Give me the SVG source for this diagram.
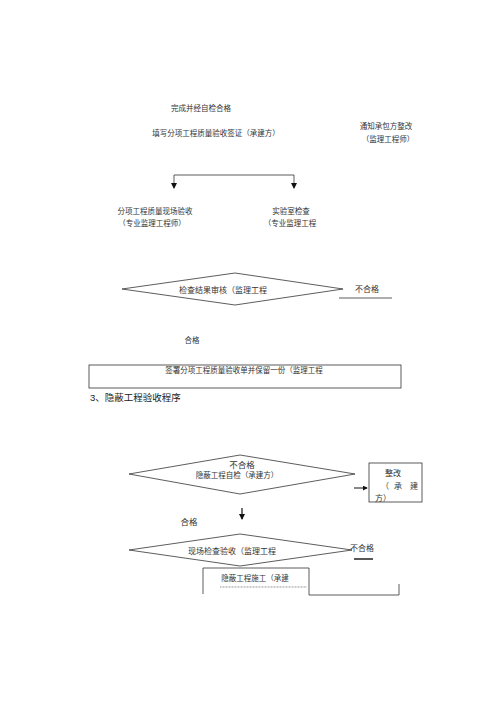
<svg xmlns="http://www.w3.org/2000/svg" width="500" height="722" viewBox="0 0 500 722">
<defs>
<style>
text{font-family:"Liberation Serif","Noto Sans CJK SC",serif;fill:#333;font-size:7.5px}
.m{text-anchor:middle}
.ln{stroke:#333;stroke-width:0.8;fill:none}
.sh{fill:#fff;stroke:#333;stroke-width:0.8}
</style>
<marker id="ah" viewBox="0 0 6 6" refX="5" refY="3" markerWidth="5" markerHeight="5" orient="auto"><path d="M0,0L6,3L0,6z" fill="#111"/></marker>
</defs>
<rect width="500" height="722" fill="#fff"/>
<g id="connectors">
<path class="ln" d="M174,188V175H294V188" stroke="#222"/>
<path d="M171,183L174,189L177,183z M291,183L294,189L297,183z" fill="#111"/>
<line class="ln" x1="339" y1="298" x2="392" y2="298"/>
<line x1="167" y1="384" x2="322" y2="384" stroke="#444" stroke-width="0.6" stroke-dasharray="1.2,0.5"/>
<line x1="354" y1="488" x2="367" y2="488" stroke="#111" stroke-width="1" marker-end="url(#ah)"/>
<line x1="242" y1="508" x2="242" y2="519" stroke="#111" stroke-width="1.2" marker-end="url(#ah)"/>
<line x1="354" y1="559" x2="373" y2="559" stroke="#111" stroke-width="1.4"/>
<line x1="220" y1="587" x2="307" y2="587" stroke="#555" stroke-width="0.6" stroke-dasharray="1,0.5"/>
<path class="ln" d="M309,595H399V584"/>
</g>
<g id="n-top">
<text x="201" y="111" class="m">完成并经自检合格</text>
<text x="216" y="136" class="m">填写分项工程质量验收签证（承建方）</text>
</g>
<g id="n-notify">
<text x="386" y="129" class="m">通知承包方整改</text>
<text x="388" y="142" class="m">（监理工程师）</text>
</g>
<g id="n-field">
<text x="155" y="214" class="m">分项工程质量现场验收</text>
<text x="152" y="226" class="m">（专业监理工程师）</text>
</g>
<g id="n-lab">
<text x="291" y="214" class="m">实验室检查</text>
<text x="290" y="226" class="m">（专业监理工程</text>
</g>
<g id="n-review">
<polygon class="sh" points="122,289 235,273 343,289 235,305"/>
<text x="223" y="293" class="m" style="font-size:8px">检查结果审核（监理工程</text>
<text x="367" y="292" class="m" style="font-size:8px">不合格</text>
</g>
<g id="n-pass1">
<text x="192" y="343" class="m">合格</text>
</g>
<g id="n-sign">
<rect class="sh" x="89" y="365" width="312" height="23"/>
<text x="244" y="373" class="m">签署分项工程质量验收单并保留一份（监理工程</text>
</g>
<g id="heading">
<text x="90" y="401" style="font-family:'Liberation Sans','Noto Sans CJK SC',sans-serif;font-size:9.5px;fill:#222">3、隐蔽工程验收程序</text>
</g>
<g id="n-self">
<polygon class="sh" points="129,474 240,455 355,474 240,494"/>
<text x="237" y="478" class="m">隐蔽工程自检（承建方）</text>
<text x="242" y="468" class="m" style="font-size:8.5px">不合格</text>
</g>
<g id="n-fix">
<rect class="sh" x="369" y="463" width="53" height="39"/>
<text x="393" y="476" class="m" style="font-size:8px">整改</text>
<text x="381" y="489" style="font-size:8px">（</text>
<text x="394" y="489" style="font-size:8px">承</text>
<text x="410" y="489" style="font-size:8px">建</text>
<text x="375" y="501" style="font-size:8px">方）</text>
</g>
<g id="n-pass2">
<text x="189" y="525" class="m" style="font-size:8.5px">合格</text>
</g>
<g id="n-site">
<polygon class="sh" points="129,550 240,534 352,550 240,566"/>
<text x="232" y="554" class="m" style="font-size:8px">现场检查验收（监理工程</text>
<text x="362" y="551" class="m" style="font-size:8px">不合格</text>
</g>
<g id="n-work">
<path class="ln" d="M203,594V568H309V595"/>
<text x="255" y="581" class="m">隐蔽工程施工（承建</text>
</g>
</svg>
